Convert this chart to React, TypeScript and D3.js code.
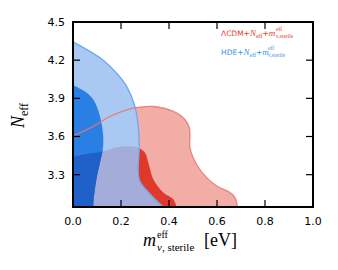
import React from "react";
import * as d3 from "d3";

const W = 338;
const H = 270;
const margin = { left: 73, right: 25, top: 22, bottom: 63 };

const xDomain: [number, number] = [0, 1.0];
const yDomain: [number, number] = [3.046, 4.5];
const xTicks = [0.0, 0.2, 0.4, 0.6, 0.8, 1.0];
const yTicks = [3.3, 3.6, 3.9, 4.2, 4.5];

// HDE + Neff + m_sterile, 95% contour (from left axis to bottom axis)
const blueOuter: [number, number][] = [
  [0, 4.344], [0.085, 4.253], [0.126, 4.2], [0.182, 4.097], [0.224, 3.992],
  [0.258, 3.836], [0.272, 3.68], [0.276, 3.523], [0.276, 3.263],
  [0.32, 3.15], [0.376, 3.046],
];
// HDE 68% contour
const blueInner: [number, number][] = [
  [0, 4.005], [0.05, 3.953], [0.085, 3.888], [0.1125, 3.758], [0.126, 3.6],
  [0.124, 3.498], [0.1125, 3.394], [0.0975, 3.263], [0.085, 3.081], [0.085, 3.046],
];
// LCDM + Neff + m_sterile, 95% contour
const redOuter: [number, number][] = [
  [0, 3.606], [0.085, 3.68], [0.154, 3.758], [0.224, 3.81], [0.279, 3.831],
  [0.335, 3.836], [0.418, 3.797], [0.467, 3.732], [0.485, 3.667],
  [0.4875, 3.615], [0.4875, 3.511], [0.515, 3.38], [0.557, 3.277],
  [0.599, 3.211], [0.654, 3.16], [0.675, 3.12], [0.685, 3.046],
];
// LCDM 68% contour
const redInner: [number, number][] = [
  [0, 3.44], [0.05, 3.46], [0.126, 3.484], [0.182, 3.516], [0.23, 3.523],
  [0.272, 3.511], [0.3, 3.472], [0.314, 3.394], [0.335, 3.263],
  [0.376, 3.16], [0.418, 3.107], [0.432, 3.046],
];

const C = {
  redLight: "#f3ada7",
  redLine: "#e8776f",
  redDark: "#e0392b",
  blueLight: "#a9c9f3",
  blueLine: "#6fa8ee",
  blueDark: "#2a7fe4",
  purple: "#a4add9",
  blueDeep: "#1f60c9",
};

export default function App() {
  const iw = W - margin.left - margin.right;
  const ih = H - margin.top - margin.bottom;
  const x = d3.scaleLinear().domain(xDomain).range([0, iw]);
  const y = d3.scaleLinear().domain(yDomain).range([ih, 0]);

  const curve = d3
    .line<[number, number]>()
    .x((d) => x(d[0]))
    .y((d) => y(d[1]))
    .curve(d3.curveCatmullRom.alpha(0.5));

  const region = (pts: [number, number][]) =>
    `${curve(pts)}L${x(0)},${y(yDomain[0])}Z`;

  const sans = "DejaVu Sans, sans-serif";
  const serif = "Liberation Serif, DejaVu Serif, serif";

  return (
    <svg
      width={W}
      height={H}
      style={{ position: "fixed", left: 0, top: 0, background: "#fff" }}
    >
      <defs>
        <clipPath id="clipBlueOuter">
          <path d={region(blueOuter)} transform={`translate(${margin.left},${margin.top})`} />
        </clipPath>
        <clipPath id="clipBlueInner">
          <path d={region(blueInner)} transform={`translate(${margin.left},${margin.top})`} />
        </clipPath>
      </defs>
      <g transform={`translate(${margin.left},${margin.top})`}>
        <path d={region(redOuter)} fill={C.redLight} />
        <path d={region(redInner)} fill={C.redDark} />
        <path d={region(blueOuter)} fill={C.blueLight} />
        <g transform={`translate(${-margin.left},${-margin.top})`} clipPath="url(#clipBlueOuter)">
          <path d={region(redInner)} fill={C.purple} transform={`translate(${margin.left},${margin.top})`} />
        </g>
        <path d={region(blueInner)} fill={C.blueDark} />
        <g transform={`translate(${-margin.left},${-margin.top})`} clipPath="url(#clipBlueInner)">
          <path d={region(redInner)} fill={C.blueDeep} transform={`translate(${margin.left},${margin.top})`} />
        </g>
        <path d={curve(blueOuter) || ""} fill="none" stroke={C.blueLine} strokeWidth={1.3} />
        <path d={curve(redOuter) || ""} fill="none" stroke={C.redLine} strokeWidth={1.3} strokeOpacity={0.85} />

        {/* ticks */}
        {xTicks.slice(1, -1).map((t) => (
          <g key={"xt" + t}>
            <line x1={x(t)} x2={x(t)} y1={ih} y2={ih - 7} stroke="#000" strokeWidth={1.2} />
            <line x1={x(t)} x2={x(t)} y1={0} y2={7} stroke="#000" strokeWidth={1.2} />
          </g>
        ))}
        {yTicks.slice(0, -1).map((t) => (
          <g key={"yt" + t}>
            <line x1={0} x2={7} y1={y(t)} y2={y(t)} stroke="#000" strokeWidth={1.2} />
            <line x1={iw} x2={iw - 7} y1={y(t)} y2={y(t)} stroke="#000" strokeWidth={1.2} />
          </g>
        ))}
        <rect x={0} y={0} width={iw} height={ih} fill="none" stroke="#000" strokeWidth={2} />

        {xTicks.map((t) => (
          <text key={"xl" + t} x={x(t)} y={ih + 18} textAnchor="middle" fontFamily={sans} fontSize={11} fill="#000">
            {t.toFixed(1)}
          </text>
        ))}
        {yTicks.map((t) => (
          <text key={"yl" + t} x={-8} y={y(t)} dy="0.36em" textAnchor="end" fontFamily={sans} fontSize={11} fill="#000">
            {t.toFixed(1)}
          </text>
        ))}
      </g>

      {/* legend */}
      <g fill="#e8392c">
        <text x={221} y={36} fontFamily={sans} fontSize={7.5}>
          ΛCDM+
          <tspan fontFamily={serif} fontStyle="italic" fontSize={9}>N</tspan>
          <tspan fontFamily={serif} fontSize={6} dy={1.5}>eff</tspan>
          <tspan fontFamily={sans} fontSize={7.5} dy={-1.5}>+</tspan>
          <tspan fontFamily={serif} fontStyle="italic" fontSize={9}>m</tspan>
        </text>
        <text x={276} y={31} fontFamily={serif} fontSize={5.5}>eff</text>
        <text x={276} y={38} fontFamily={serif} fontSize={5.5}>
          <tspan fontStyle="italic">ν</tspan>,sterile
        </text>
      </g>
      <g fill="#3d8fe8">
        <text x={221} y={55} fontFamily={sans} fontSize={7.5}>
          HDE+
          <tspan fontFamily={serif} fontStyle="italic" fontSize={9}>N</tspan>
          <tspan fontFamily={serif} fontSize={6} dy={1.5}>eff</tspan>
          <tspan fontFamily={sans} fontSize={7.5} dy={-1.5}>+</tspan>
          <tspan fontFamily={serif} fontStyle="italic" fontSize={9}>m</tspan>
        </text>
        <text x={268} y={50} fontFamily={serif} fontSize={5.5}>eff</text>
        <text x={268} y={57} fontFamily={serif} fontSize={5.5}>
          <tspan fontStyle="italic">ν</tspan>,sterile
        </text>
      </g>

      {/* x label */}
      <g fill="#000" fontFamily={serif}>
        <text x={143} y={246} fontSize={18} fontStyle="italic">m</text>
        <text x={157} y={238} fontSize={10}>eff</text>
        <text x={157} y={251} fontSize={11}>
          <tspan fontStyle="italic">ν</tspan>, sterile
        </text>
        <text x={204} y={246} fontSize={18}>[eV]</text>
      </g>

      {/* y label */}
      <g transform="translate(24,128) rotate(-90)" fill="#000" fontFamily={serif}>
        <text x={0} y={0} fontSize={18} fontStyle="italic">
          N<tspan fontStyle="normal" fontSize={12} dy={4}>eff</tspan>
        </text>
      </g>
    </svg>
  );
}
